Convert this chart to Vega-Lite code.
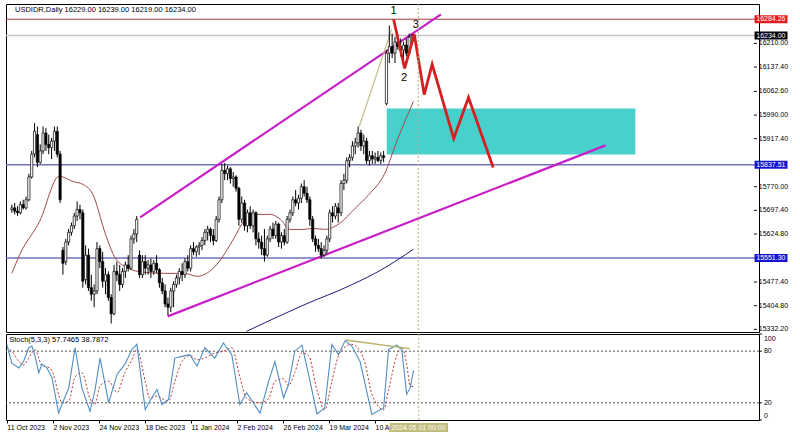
{
"$schema": "https://vega.github.io/schema/vega-lite/v6.json",
"background": "white",
"padding": {"left": 4, "top": 3, "right": 0, "bottom": 0},
"spacing": 2,
"bounds": "flush",
"config": {
  "font": "Liberation Sans",
  "view": {"stroke": "#000", "strokeWidth": 1},
  "axis": {"labelFont": "Liberation Sans", "labelFontSize": 7, "labelColor": "#000", "tickColor": "#000", "domain": false, "grid": false, "title": null, "tickSize": 3, "labelPadding": 2}
},
"datasets": {
  "candles": [
{"i":0,"o":15700,"h":15715,"l":15690,"c":15705},{"i":1,"o":15705,"h":15720,"l":15685,"c":15695},{"i":2,"o":15695,"h":15710,"l":15680,"c":15690},{"i":3,"o":15690,"h":15725,"l":15685,"c":15715},{"i":4,"o":15715,"h":15730,"l":15700,"c":15705},{"i":5,"o":15705,"h":15740,"l":15700,"c":15730},{"i":6,"o":15730,"h":15810,"l":15725,"c":15800},{"i":7,"o":15800,"h":15880,"l":15795,"c":15870},{"i":8,"o":15870,"h":15965,"l":15860,"c":15940},{"i":9,"o":15930,"h":15955,"l":15830,"c":15845},
{"i":10,"o":15845,"h":15900,"l":15840,"c":15880},{"i":11,"o":15880,"h":15955,"l":15870,"c":15935},{"i":12,"o":15935,"h":15950,"l":15880,"c":15900},{"i":13,"o":15900,"h":15930,"l":15870,"c":15890},{"i":14,"o":15890,"h":15920,"l":15855,"c":15910},{"i":15,"o":15910,"h":15955,"l":15880,"c":15940},{"i":16,"o":15940,"h":15955,"l":15860,"c":15870},{"i":17,"o":15870,"h":15880,"l":15720,"c":15730},{"i":18,"o":15575,"h":15585,"l":15500,"c":15535},{"i":19,"o":15540,"h":15610,"l":15530,"c":15600},
{"i":20,"o":15600,"h":15640,"l":15590,"c":15630},{"i":21,"o":15630,"h":15660,"l":15620,"c":15650},{"i":22,"o":15650,"h":15690,"l":15640,"c":15680},{"i":23,"o":15680,"h":15725,"l":15665,"c":15700},{"i":24,"o":15700,"h":15715,"l":15670,"c":15690},{"i":25,"o":15690,"h":15700,"l":15460,"c":15480},{"i":26,"o":15485,"h":15590,"l":15470,"c":15560},{"i":27,"o":15560,"h":15580,"l":15450,"c":15460},{"i":28,"o":15460,"h":15500,"l":15420,"c":15440},{"i":29,"o":15440,"h":15470,"l":15400,"c":15450},
{"i":30,"o":15450,"h":15600,"l":15440,"c":15580},{"i":31,"o":15580,"h":15590,"l":15520,"c":15540},{"i":32,"o":15540,"h":15570,"l":15460,"c":15480},{"i":33,"o":15480,"h":15520,"l":15440,"c":15500},{"i":34,"o":15500,"h":15510,"l":15420,"c":15430},{"i":35,"o":15430,"h":15440,"l":15350,"c":15380},{"i":36,"o":15380,"h":15530,"l":15375,"c":15510},{"i":37,"o":15510,"h":15540,"l":15480,"c":15500},{"i":38,"o":15500,"h":15530,"l":15450,"c":15470},{"i":39,"o":15470,"h":15520,"l":15460,"c":15510},
{"i":40,"o":15510,"h":15540,"l":15490,"c":15530},{"i":41,"o":15530,"h":15560,"l":15510,"c":15520},{"i":42,"o":15520,"h":15620,"l":15515,"c":15610},{"i":43,"o":15610,"h":15640,"l":15595,"c":15625},{"i":44,"o":15625,"h":15680,"l":15600,"c":15670},{"i":45,"o":15560,"h":15575,"l":15490,"c":15500},{"i":46,"o":15500,"h":15560,"l":15490,"c":15540},{"i":47,"o":15540,"h":15560,"l":15500,"c":15520},{"i":48,"o":15520,"h":15545,"l":15500,"c":15530},{"i":49,"o":15530,"h":15550,"l":15490,"c":15510},
{"i":50,"o":15510,"h":15545,"l":15500,"c":15535},{"i":51,"o":15535,"h":15560,"l":15505,"c":15515},{"i":52,"o":15515,"h":15520,"l":15460,"c":15475},{"i":53,"o":15475,"h":15490,"l":15440,"c":15450},{"i":54,"o":15450,"h":15470,"l":15400,"c":15410},{"i":55,"o":15410,"h":15430,"l":15375,"c":15400},{"i":56,"o":15400,"h":15460,"l":15385,"c":15450},{"i":57,"o":15450,"h":15480,"l":15400,"c":15470},{"i":58,"o":15470,"h":15500,"l":15460,"c":15490},{"i":59,"o":15490,"h":15520,"l":15470,"c":15510},
{"i":60,"o":15510,"h":15535,"l":15480,"c":15500},{"i":61,"o":15500,"h":15550,"l":15490,"c":15540},{"i":62,"o":15540,"h":15560,"l":15510,"c":15520},{"i":63,"o":15520,"h":15590,"l":15510,"c":15580},{"i":64,"o":15580,"h":15600,"l":15560,"c":15570},{"i":65,"o":15570,"h":15590,"l":15555,"c":15585},{"i":66,"o":15585,"h":15600,"l":15560,"c":15590},{"i":67,"o":15590,"h":15615,"l":15575,"c":15605},{"i":68,"o":15605,"h":15640,"l":15590,"c":15630},{"i":69,"o":15630,"h":15650,"l":15605,"c":15640},
{"i":70,"o":15640,"h":15645,"l":15600,"c":15620},{"i":71,"o":15620,"h":15640,"l":15590,"c":15605},{"i":72,"o":15605,"h":15680,"l":15600,"c":15670},{"i":73,"o":15670,"h":15740,"l":15660,"c":15730},{"i":74,"o":15730,"h":15840,"l":15720,"c":15820},{"i":75,"o":15820,"h":15843,"l":15790,"c":15810},{"i":76,"o":15810,"h":15835,"l":15790,"c":15825},{"i":77,"o":15825,"h":15830,"l":15780,"c":15795},{"i":78,"o":15795,"h":15815,"l":15770,"c":15800},{"i":79,"o":15800,"h":15805,"l":15755,"c":15765},
{"i":80,"o":15765,"h":15770,"l":15650,"c":15670},{"i":81,"o":15670,"h":15740,"l":15660,"c":15720},{"i":82,"o":15720,"h":15730,"l":15635,"c":15650},{"i":83,"o":15650,"h":15700,"l":15630,"c":15690},{"i":84,"o":15690,"h":15710,"l":15640,"c":15650},{"i":85,"o":15650,"h":15700,"l":15630,"c":15690},{"i":86,"o":15690,"h":15695,"l":15590,"c":15610},{"i":87,"o":15610,"h":15630,"l":15580,"c":15600},{"i":88,"o":15600,"h":15620,"l":15560,"c":15580},{"i":89,"o":15580,"h":15640,"l":15540,"c":15560},
{"i":90,"o":15560,"h":15620,"l":15555,"c":15610},{"i":91,"o":15610,"h":15650,"l":15600,"c":15640},{"i":92,"o":15640,"h":15660,"l":15610,"c":15620},{"i":93,"o":15620,"h":15665,"l":15610,"c":15655},{"i":94,"o":15655,"h":15660,"l":15585,"c":15600},{"i":95,"o":15600,"h":15630,"l":15580,"c":15620},{"i":96,"o":15620,"h":15640,"l":15590,"c":15600},{"i":97,"o":15600,"h":15680,"l":15595,"c":15670},{"i":98,"o":15670,"h":15700,"l":15660,"c":15690},{"i":99,"o":15690,"h":15740,"l":15680,"c":15730},
{"i":100,"o":15730,"h":15760,"l":15710,"c":15720},{"i":101,"o":15720,"h":15745,"l":15700,"c":15735},{"i":102,"o":15735,"h":15780,"l":15720,"c":15770},{"i":103,"o":15770,"h":15790,"l":15740,"c":15750},{"i":104,"o":15750,"h":15770,"l":15720,"c":15730},{"i":105,"o":15730,"h":15740,"l":15650,"c":15670},{"i":106,"o":15670,"h":15680,"l":15600,"c":15610},{"i":107,"o":15610,"h":15620,"l":15570,"c":15590},{"i":108,"o":15590,"h":15610,"l":15570,"c":15580},{"i":109,"o":15580,"h":15600,"l":15550,"c":15560},
{"i":110,"o":15560,"h":15590,"l":15555,"c":15575},{"i":111,"o":15575,"h":15620,"l":15565,"c":15610},{"i":112,"o":15610,"h":15700,"l":15600,"c":15690},{"i":113,"o":15690,"h":15710,"l":15660,"c":15680},{"i":114,"o":15680,"h":15720,"l":15670,"c":15710},{"i":115,"o":15705,"h":15720,"l":15660,"c":15690},{"i":116,"o":15690,"h":15790,"l":15680,"c":15780},{"i":117,"o":15780,"h":15810,"l":15760,"c":15790},{"i":118,"o":15790,"h":15860,"l":15780,"c":15850},{"i":119,"o":15850,"h":15870,"l":15830,"c":15860},
{"i":120,"o":15860,"h":15910,"l":15850,"c":15895},{"i":121,"o":15895,"h":15920,"l":15870,"c":15905},{"i":122,"o":15905,"h":15955,"l":15890,"c":15935},{"i":123,"o":15935,"h":15945,"l":15880,"c":15895},{"i":124,"o":15895,"h":15930,"l":15870,"c":15910},{"i":125,"o":15910,"h":15920,"l":15840,"c":15850},{"i":126,"o":15850,"h":15880,"l":15835,"c":15865},{"i":127,"o":15865,"h":15880,"l":15840,"c":15855},{"i":128,"o":15855,"h":15875,"l":15840,"c":15860},{"i":129,"o":15860,"h":15880,"l":15845,"c":15850},
{"i":130,"o":15850,"h":15875,"l":15840,"c":15865},{"i":131,"o":15865,"h":15880,"l":15845,"c":15860},{"i":132,"o":16025,"h":16190,"l":16020,"c":16180},{"i":133,"o":16180,"h":16265,"l":16150,"c":16200},{"i":134,"o":16200,"h":16240,"l":16165,"c":16180},{"i":135,"o":16180,"h":16230,"l":16150,"c":16215},{"i":136,"o":16215,"h":16240,"l":16190,"c":16200},{"i":137,"o":16200,"h":16225,"l":16170,"c":16190},{"i":138,"o":16190,"h":16215,"l":16160,"c":16205},{"i":139,"o":16205,"h":16225,"l":16170,"c":16180},
{"i":140,"o":16180,"h":16240,"l":16175,"c":16229},{"i":141,"o":16229,"h":16239,"l":16219,"c":16234}
  ],
  "ma20": [
{"i":0,"p":15504},{"i":2.8,"p":15562},{"i":9.8,"p":15664},{"i":16.7,"p":15802},{"i":21.6,"p":15786},{"i":25.1,"p":15777},{"i":28.5,"p":15747},{"i":33,"p":15624},{"i":36.5,"p":15550},{"i":40,"p":15525},{"i":44.5,"p":15510},{"i":53.9,"p":15504},{"i":60.9,"p":15504},{"i":65.4,"p":15495},{"i":72.3,"p":15532},{"i":78.2,"p":15611},{"i":81.7,"p":15664},{"i":85.2,"p":15685},{"i":91.1,"p":15685},{"i":94.6,"p":15670},{"i":98,"p":15639},{"i":102.6,"p":15639},{"i":106,"p":15642},{"i":110.5,"p":15639},{"i":115.4,"p":15657},{"i":121,"p":15704},{"i":125.8,"p":15746},{"i":131.4,"p":15811},{"i":135.6,"p":15909},{"i":141.5,"p":16032}
  ],
  "ma200": [
{"i":82.7,"p":15326},{"i":102.6,"p":15406},{"i":120,"p":15470},{"i":130.4,"p":15516},{"i":141.5,"p":15578}
  ],
  "upper": [{"i":45.2,"p":15676},{"i":151.2,"p":16299}],
  "lower": [{"i":54.9,"p":15372},{"i":209.2,"p":15897}],
  "trend": [{"i":122.4,"p":15955},{"i":133.8,"p":16253}],
  "zigzag": [
{"i":134.5,"p":16284},{"i":138.4,"p":16133},{"i":141.8,"p":16238},{"i":145.3,"p":16053},{"i":148.1,"p":16146},{"i":155.7,"p":15918},{"i":160.9,"p":16044},{"i":169.6,"p":15829}
  ],
  "waves": [{"i":134.5,"p":16308,"t":"1"},{"i":138.2,"p":16105,"t":"2"},{"i":142.3,"p":16265,"t":"3"}],
  "yticks": [{"v":16210},{"v":16137.4},{"v":16062.6},{"v":15990},{"v":15917.4},{"v":15770},{"v":15697.4},{"v":15624.8},{"v":15477.4},{"v":15404.8},{"v":15332.2}],
  "tags": [
{"p":16284.26,"t":"16284.26","k":"high"},{"p":16234,"t":"16234.00","k":"price"},{"p":15837.51,"t":"15837.51","k":"level"},{"p":15551.3,"t":"15551.30","k":"level"}
  ],
  "stoch": [
{"i":0,"k":87.8,"d":85},{"i":1.7,"k":66,"d":80},{"i":4.2,"k":60.6,"d":68},{"i":5.8,"k":68,"d":64},{"i":7.6,"k":84,"d":72},{"i":8.7,"k":86,"d":78},{"i":9.8,"k":74,"d":82},{"i":11.1,"k":55,"d":72},{"i":12.2,"k":65,"d":63},{"i":13.9,"k":60.6,"d":62},{"i":15.7,"k":49,"d":57},{"i":18,"k":8,"d":30},{"i":19.1,"k":18,"d":20},{"i":21.5,"k":37,"d":22},{"i":23.7,"k":84,"d":50},{"i":26.1,"k":37,"d":55},{"i":28.9,"k":10,"d":25},{"i":30.6,"k":34,"d":18},{"i":32.4,"k":72,"d":40},{"i":35.4,"k":20,"d":45},{"i":38.3,"k":53,"d":32},{"i":41,"k":64.6,"d":55},{"i":43.5,"k":82,"d":70},{"i":45.2,"k":88,"d":82},{"i":48.1,"k":12,"d":45},{"i":49.7,"k":22,"d":25},{"i":52.2,"k":35.5,"d":28},{"i":53.9,"k":18,"d":25},{"i":56.2,"k":24,"d":22},{"i":58.4,"k":72,"d":45},{"i":60.9,"k":74,"d":68},{"i":63.6,"k":76,"d":75},{"i":66.1,"k":62.6,"d":70},{"i":68.8,"k":84,"d":72},{"i":72.3,"k":72,"d":78},{"i":75.3,"k":89.6,"d":80},{"i":78.2,"k":76,"d":84},{"i":81,"k":18,"d":50},{"i":83.4,"k":31.6,"d":25},{"i":88,"k":8,"d":20},{"i":91,"k":45,"d":25},{"i":93.2,"k":68,"d":45},{"i":96.2,"k":25.8,"d":48},{"i":97.9,"k":41,"d":40},{"i":100.1,"k":80,"d":55},{"i":102.6,"k":87,"d":78},{"i":104.9,"k":53,"d":75},{"i":107.8,"k":7,"d":35},{"i":110.5,"k":14,"d":12},{"i":113,"k":87.8,"d":45},{"i":115.3,"k":76,"d":75},{"i":117.6,"k":92.4,"d":85},{"i":119.9,"k":86,"d":88},{"i":122.8,"k":68,"d":80},{"i":124.6,"k":41,"d":65},{"i":126.9,"k":6.5,"d":30},{"i":131,"k":14,"d":12},{"i":132.7,"k":82,"d":35},{"i":135.6,"k":87,"d":75},{"i":137.3,"k":82,"d":85},{"i":139,"k":30,"d":65},{"i":140.2,"k":37,"d":40},{"i":141.4,"k":57.7,"d":38.8}
  ],
  "div": [{"i":117.6,"v":93},{"i":140.1,"v":83}]
},
"vconcat": [
{
  "width": 753, "height": 328,
  "layer": [
    {"data": {"values": [{}]}, "mark": {"type": "rect", "color": "#48d1cc"},
     "encoding": {
       "x": {"datum": 132.1, "type": "quantitative", "scale": {"domain": [-0.3, 261.5], "nice": false, "zero": false}, "axis": null},
       "x2": {"datum": 219.7},
       "y": {"datum": 16010, "type": "quantitative", "scale": {"domain": [15324, 16331], "nice": false, "zero": false}, "axis": null},
       "y2": {"datum": 15869}}},
    {"data": {"values": [{}]}, "mark": {"type": "rule", "color": "#c4c4c4", "strokeWidth": 1.5}, "encoding": {"y": {"datum": 16234}}},
    {"data": {"values": [{}]}, "mark": {"type": "rule", "color": "#a33a3a", "strokeWidth": 1}, "encoding": {"y": {"datum": 16284.26}}},
    {"data": {"values": [{}]}, "mark": {"type": "rule", "color": "#7272bc", "strokeWidth": 1.5}, "encoding": {"y": {"datum": 15837.51}}},
    {"data": {"values": [{}]}, "mark": {"type": "rule", "color": "#7272bc", "strokeWidth": 1.5}, "encoding": {"y": {"datum": 15551.3}}},
    {"data": {"name": "upper"}, "mark": {"type": "line", "color": "#c81ec8", "strokeWidth": 2.2}, "encoding": {"x": {"field": "i", "type": "quantitative"}, "y": {"field": "p", "type": "quantitative"}}},
    {"data": {"name": "lower"}, "mark": {"type": "line", "color": "#c81ec8", "strokeWidth": 2.2}, "encoding": {"x": {"field": "i", "type": "quantitative"}, "y": {"field": "p", "type": "quantitative"}}},
    {"data": {"name": "ma200"}, "mark": {"type": "line", "color": "#1c1c78", "strokeWidth": 1, "interpolate": "monotone"}, "encoding": {"x": {"field": "i", "type": "quantitative"}, "y": {"field": "p", "type": "quantitative"}}},
    {"data": {"name": "ma20"}, "mark": {"type": "line", "color": "#a04a4a", "strokeWidth": 1, "interpolate": "monotone"}, "encoding": {"x": {"field": "i", "type": "quantitative"}, "y": {"field": "p", "type": "quantitative"}}},
    {"data": {"name": "trend"}, "mark": {"type": "line", "color": "#c4bc84", "strokeWidth": 1.2}, "encoding": {"x": {"field": "i", "type": "quantitative"}, "y": {"field": "p", "type": "quantitative"}}},
    {"data": {"name": "candles"}, "mark": {"type": "rule", "color": "#000", "strokeWidth": 1},
     "encoding": {"x": {"field": "i", "type": "quantitative"}, "y": {"field": "l", "type": "quantitative"}, "y2": {"field": "h"}}},
    {"data": {"name": "candles"}, "mark": {"type": "bar", "size": 2.2, "stroke": "#000", "strokeWidth": 0.7},
     "encoding": {"x": {"field": "i", "type": "quantitative"}, "y": {"field": "o", "type": "quantitative"}, "y2": {"field": "c"},
       "fill": {"condition": {"test": "datum.c >= datum.o", "value": "#ffffff"}, "value": "#000000"}}},
    {"data": {"name": "zigzag"}, "mark": {"type": "line", "color": "#d42020", "strokeWidth": 2.8, "strokeJoin": "miter"}, "encoding": {"x": {"field": "i", "type": "quantitative"}, "y": {"field": "p", "type": "quantitative"}}},
    {"data": {"name": "waves"}, "mark": {"type": "text", "fontSize": 11, "color": "#000", "baseline": "middle"},
     "encoding": {"x": {"field": "i", "type": "quantitative"}, "y": {"field": "p", "type": "quantitative"}, "text": {"field": "t"}}},
    {"data": {"values": [{}]}, "mark": {"type": "rule", "color": "#bcae80", "strokeWidth": 1, "strokeDash": [2, 2]}, "encoding": {"x": {"datum": 143.2}}},
    {"data": {"values": [{}]}, "mark": {"type": "text", "fontSize": 7.5, "align": "left", "baseline": "middle", "color": "#000", "text": "USDIDR,Daily  16229.00 16239.00 16219.00 16234.00"},
     "encoding": {"x": {"datum": 1.1}, "y": {"datum": 16314}}},
    {"data": {"name": "yticks"}, "mark": {"type": "rule", "color": "#000", "strokeWidth": 1, "clip": false},
     "encoding": {"x": {"datum": 261.5}, "x2": {"datum": 262.5}, "y": {"field": "v", "type": "quantitative"}}},
    {"data": {"name": "yticks"}, "mark": {"type": "text", "fontSize": 7, "align": "left", "baseline": "middle", "color": "#000", "clip": false},
     "encoding": {"x": {"datum": 263.2}, "y": {"field": "v", "type": "quantitative"}, "text": {"field": "v", "type": "quantitative", "format": ".2f"}}},
    {"data": {"name": "tags"}, "mark": {"type": "rule", "strokeWidth": 8, "strokeCap": "butt", "clip": false},
     "encoding": {"x": {"datum": 261.7}, "x2": {"datum": 273.3}, "y": {"field": "p", "type": "quantitative"},
       "color": {"field": "k", "type": "nominal", "scale": {"domain": ["high", "price", "level"], "range": ["#e41a1a", "#000000", "#1414d2"]}, "legend": null}}},
    {"data": {"name": "tags"}, "mark": {"type": "text", "fontSize": 7, "align": "left", "baseline": "middle", "color": "#ffffff", "clip": false},
     "encoding": {"x": {"datum": 262.3}, "y": {"field": "p", "type": "quantitative"}, "text": {"field": "t"}}}
  ]
},
{
  "width": 753, "height": 86,
  "layer": [
    {"data": {"values": [{}]}, "mark": {"type": "rule", "color": "#555", "strokeWidth": 1, "strokeDash": [2, 2]},
     "encoding": {"y": {"datum": 80, "type": "quantitative", "scale": {"domain": [0, 100], "nice": false}, "axis": null}}},
    {"data": {"values": [{}]}, "mark": {"type": "rule", "color": "#555", "strokeWidth": 1, "strokeDash": [2, 2]}, "encoding": {"y": {"datum": 20}}},
    {"data": {"values": [{}]}, "mark": {"type": "rule", "color": "#bcae80", "strokeWidth": 1, "strokeDash": [2, 2]}, "encoding": {"x": {"datum": 143.2}}},
    {"data": {"name": "stoch"}, "mark": {"type": "line", "color": "#c03434", "strokeWidth": 1, "strokeDash": [2, 2], "interpolate": "monotone"},
     "encoding": {"x": {"field": "i", "type": "quantitative", "scale": {"domain": [-0.3, 261.5], "nice": false, "zero": false},
        "axis": {"orient": "bottom", "values": [0, 16, 32, 48, 64, 80, 96, 112, 128], "labelAlign": "left", "labelPadding": 0, "tickSize": 3, "labelOverlap": false,
          "labelExpr": "['11 Oct 2023','2 Nov 2023','24 Nov 2023','18 Dec 2023','11 Jan 2024','2 Feb 2024','26 Feb 2024','19 Mar 2024','10 Apr 2024'][round(datum.value/16)]"}},
       "y": {"field": "d", "type": "quantitative"}}},
    {"data": {"name": "stoch"}, "mark": {"type": "line", "color": "#4f8ec4", "strokeWidth": 1.1},
     "encoding": {"x": {"field": "i", "type": "quantitative"}, "y": {"field": "k", "type": "quantitative"}}},
    {"data": {"name": "div"}, "mark": {"type": "line", "color": "#b8b064", "strokeWidth": 1.5},
     "encoding": {"x": {"field": "i", "type": "quantitative"}, "y": {"field": "v", "type": "quantitative"}}},
    {"data": {"values": [{}]}, "mark": {"type": "text", "fontSize": 7.5, "align": "left", "baseline": "middle", "color": "#000", "text": "Stoch(5,3,3) 57.7465 38.7872"},
     "encoding": {"x": {"datum": 0.8}, "y": {"datum": 93}}},
    {"data": {"values": [{"v": 0}, {"v": 20}, {"v": 80}, {"v": 100}]}, "mark": {"type": "rule", "color": "#000", "strokeWidth": 1, "clip": false},
     "encoding": {"x": {"datum": 261.5}, "x2": {"datum": 262.5}, "y": {"field": "v", "type": "quantitative"}}},
    {"data": {"values": [{"v": 20}, {"v": 80}]}, "mark": {"type": "text", "fontSize": 7, "align": "left", "baseline": "middle", "color": "#000", "clip": false},
     "encoding": {"x": {"datum": 263.2}, "y": {"field": "v", "type": "quantitative"}, "text": {"field": "v", "type": "quantitative"}}},
    {"data": {"values": [{}]}, "mark": {"type": "text", "fontSize": 7, "align": "left", "baseline": "top", "color": "#000", "clip": false, "text": "100"},
     "encoding": {"x": {"datum": 263.2}, "y": {"datum": 99}}},
    {"data": {"values": [{}]}, "mark": {"type": "text", "fontSize": 7, "align": "left", "baseline": "bottom", "color": "#000", "clip": false, "text": "0"},
     "encoding": {"x": {"datum": 263.2}, "y": {"datum": 1}}},
    {"data": {"values": [{}]}, "mark": {"type": "rect", "color": "#c2bc7c", "clip": false},
     "encoding": {"x": {"datum": 133.1}, "x2": {"datum": 153.4}, "y": {"datum": -3.6}, "y2": {"datum": -14}}},
    {"data": {"values": [{}]}, "mark": {"type": "text", "fontSize": 7, "align": "left", "baseline": "middle", "color": "#ffffff", "clip": false, "text": "2024.05.01 00:00"},
     "encoding": {"x": {"datum": 133.6}, "y": {"datum": -8.8}}}
  ]
}
]
}
